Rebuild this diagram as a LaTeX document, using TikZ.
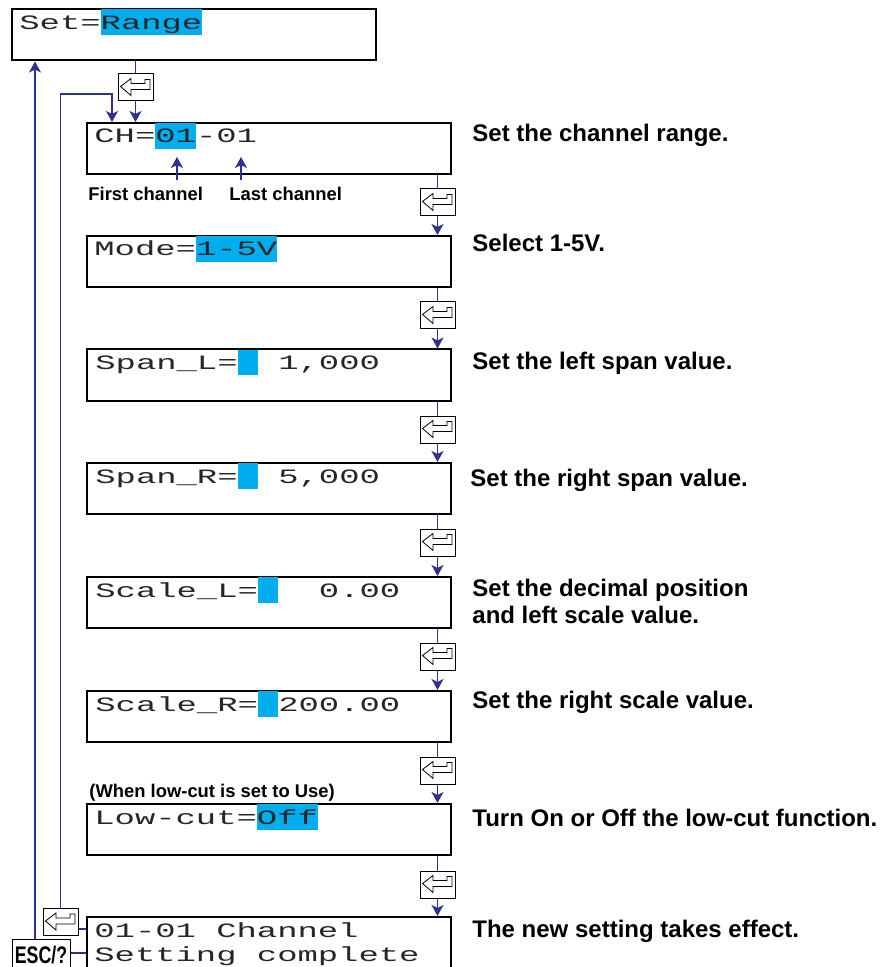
\documentclass[tikz,border=0pt]{standalone}
\usepackage{fontspec}
\usepackage{graphicx}
\setmainfont{Liberation Sans}
\newfontfamily\lcdfont[FakeStretch=1.66]{Liberation Mono}
\usetikzlibrary{arrows.meta}
\definecolor{lcdcyan}{HTML}{00AEEF}
\definecolor{flowblue}{HTML}{2E3192}
\newcommand\hl[1]{{\setlength\fboxsep{0pt}\colorbox{lcdcyan}{\rule[-3pt]{0pt}{13pt}#1}}}

\begin{document}
\begin{tikzpicture}[x=0.5pt, y=-0.5pt, >={Stealth[length=5.5pt,width=6pt,inset=1.5pt]},
    screen/.style={draw, line width=1pt, minimum width=182pt, minimum height=25.5pt, inner sep=0pt},
    lcd/.style={inner sep=0pt, anchor=base west, text=black!85, font=\lcdfont\fontsize{10.2}{12}\selectfont},
    note/.style={inner sep=0pt, anchor=base west, font=\bfseries\fontsize{12}{13.5}\selectfont},
    small/.style={inner sep=0pt, anchor=base west, font=\bfseries\fontsize{9.2}{11}\selectfont},
    flow/.style={draw=flowblue, line width=0.6pt},
    enterkey/.style={draw, fill=white, line width=0.5pt, minimum width=17.5pt, minimum height=13.5pt, inner sep=0pt,
      path picture={\draw[shift={(path picture bounding box.center)}, line width=0.4pt]
        (-15,-1) -- (-4.5,-9) -- (-4.5,-4) -- (9.5,-4) -- (9.5,-8) -- (14.5,-8) -- (14.5,2) -- (-4.5,2) -- (-4.5,8) -- cycle;}}]
    \useasboundingbox (0,0) rectangle (879,967);

    % screens
    \node[screen] (set) at (194,35) {};
    \node[screen] (ch) at (269,148.5) {};
    \node[screen] (mode) at (269,261.5) {};
    \node[screen] (spanl) at (269,375) {};
    \node[screen] (spanr) at (269,488.5) {};
    \node[screen] (scalel) at (269,602.5) {};
    \node[screen] (scaler) at (269,716.5) {};
    \node[screen] (lowcut) at (269,829.5) {};
    \node[screen, minimum height=32pt] (done) at (269,949) {};

    % screen texts
    \node[lcd] (settxt) at ([xshift=4pt,yshift=-10.5pt]set.north west) {Set=\hl{Range}};
    \node[lcd] (chtxt) at ([xshift=4pt,yshift=-10.5pt]ch.north west) {CH=\hl{01}-01};
    \node[lcd] (modetxt) at ([xshift=4pt,yshift=-10.5pt]mode.north west) {Mode=\hl{1-5V}};
    \node[lcd] (spanltxt) at ([xshift=4.5pt,yshift=-10.5pt]spanl.north west) {Span\_L=\hl{~}~1,000};
    \node[lcd] (spanrtxt) at ([xshift=4.5pt,yshift=-10.5pt]spanr.north west) {Span\_R=\hl{~}~5,000};
    \node[lcd] (scaleltxt) at ([xshift=4.5pt,yshift=-10.5pt]scalel.north west) {Scale\_L=\hl{~}~~0.00};
    \node[lcd] (scalertxt) at ([xshift=4.5pt,yshift=-10.5pt]scaler.north west) {Scale\_R=\hl{~}200.00};
    \node[lcd] (lowcuttxt) at ([xshift=4pt,yshift=-10.5pt]lowcut.north west) {Low-cut=\hl{Off}};
    \node[lcd] (donetxt) at ([xshift=4pt,yshift=-10.5pt]done.north west) {01-01~Channel};
    \node[lcd] (donetxtb) at ([xshift=4pt,yshift=-22.5pt]done.north west) {Setting~complete};

    % notes
    \node[note] (n1) at (472,142) {Set the channel range.};
    \node[note] (n2) at (472,252) {Select 1-5V.};
    \node[note] (n3) at (472,370) {Set the left span value.};
    \node[note] (n4) at (470,486) {Set the right span value.};
    \node[note] (n5) at (472,596) {Set the decimal position};
    \node[note] (n5b) at (472,623) {and left scale value.};
    \node[note] (n6) at (472,708) {Set the right scale value.};
    \node[note] (n7) at (472,826) {Turn On or Off the low-cut function.};
    \node[note] (n8) at (472,937) {The new setting takes effect.};
    \node[small] (first) at (88,201) {First channel};
    \node[small] (last) at (229,201) {Last channel};
    \node[small] (usenote) at (89,797) {(When low-cut is set to Use)};

    % keys
    \node[enterkey] (k0) at (135.5,87.5) {};
    \node[enterkey] (k1) at (437.5,202.5) {};
    \node[enterkey] (k2) at (437.5,315.5) {};
    \node[enterkey] (k3) at (437.5,429.5) {};
    \node[enterkey] (k4) at (437.5,542.5) {};
    \node[enterkey] (k5) at (437.5,656.5) {};
    \node[enterkey] (k6) at (437.5,770.5) {};
    \node[enterkey] (k7) at (437.5,884.5) {};
    \node[enterkey] (kback) at (60.5,922) {};
    \node[draw, line width=0.5pt, minimum width=29pt, minimum height=16pt, inner sep=0pt,
      font=\bfseries\fontsize{12}{12}\selectfont] (esc) at (41,955) {\scalebox{0.74}[1]{ESC/?}};

    % flow
    \draw[flow] (set.south -| k0) -- (k0);
    \draw[flow,->] (k0) -- (ch.north -| k0);
    \draw[flow] (ch.south -| k1) -- (k1);
    \draw[flow,->] (k1) -- (mode.north -| k1);
    \draw[flow] (mode.south -| k2) -- (k2);
    \draw[flow,->] (k2) -- (spanl.north -| k2);
    \draw[flow] (spanl.south -| k3) -- (k3);
    \draw[flow,->] (k3) -- (spanr.north -| k3);
    \draw[flow] (spanr.south -| k4) -- (k4);
    \draw[flow,->] (k4) -- (scalel.north -| k4);
    \draw[flow] (scalel.south -| k5) -- (k5);
    \draw[flow,->] (k5) -- (scaler.north -| k5);
    \draw[flow] (scaler.south -| k6) -- (k6);
    \draw[flow,->] (k6) -- (lowcut.north -| k6);
    \draw[flow] (lowcut.south -| k7) -- (k7);
    \draw[flow,->] (k7) -- (done.north -| k7);

    % channel pointers
    \coordinate (firstdigit) at (177,157);
    \coordinate (lastdigit) at (241,157);
    \draw[flow,->] ([yshift=3.5pt]firstdigit |- first.north) -- (firstdigit);
    \draw[flow,->] ([yshift=3.5pt]lastdigit |- last.north) -- (lastdigit);

    % back loops
    \coordinate (loopcorner) at (112,94);
    \draw[flow,->] (kback.north) |- (loopcorner) -- (loopcorner |- ch.north);
    \draw[flow] ([yshift=-3.5pt]kback.east) -- ([yshift=-3.5pt]kback.east -| done.west);
    \draw[flow,->] ([xshift=-3pt]esc.north) -- ([xshift=-3pt]esc.north |- set.south);
    \draw[flow] ([yshift=1pt]esc.east) -- ([yshift=1pt]esc.east -| done.west);
  \end{tikzpicture}
\end{document}
